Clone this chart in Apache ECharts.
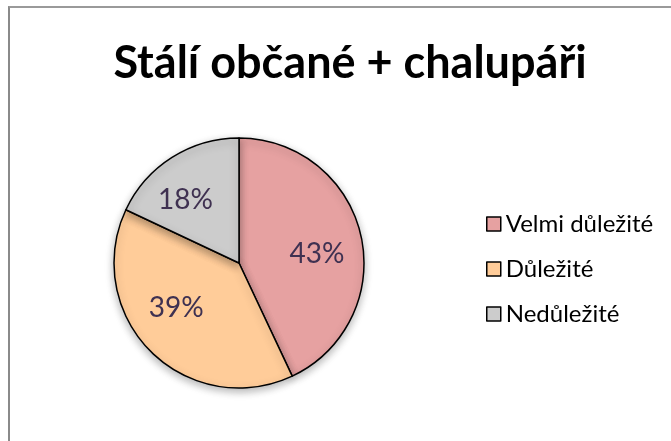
<!DOCTYPE html>
<html>
<head>
<meta charset="utf-8">
<script src="https://cdn.jsdelivr.net/npm/echarts@6/dist/echarts.min.js"></script>
<style>
  html, body { margin: 0; padding: 0; background: #fff; }
  #frame {
    position: absolute; left: 8px; top: 6px; width: 663px; height: 435px;
    border-left: 2px solid #8a8a8a; border-top: 2px solid #9a9a9a;
  }
  #chart { position: absolute; left: 0; top: 0; width: 671px; height: 441px; }
</style>
</head>
<body>
<div id="frame"></div>
<div id="chart"></div>
<script>
// data
const categories = ["Velmi důležité", "Důležité", "Nedůležité"];
const shares = [43, 39, 18];
const sliceColors = ["#E6A1A1", "#FFCC99", "#CCCCCC"];
// small label nudges so the percentages sit where Excel put them
const labelNudge = [[-3, 9], [-4, -14], [-9, 7]];

const chart = echarts.init(document.getElementById("chart"));

const pieData = categories.map((name, i) => ({
  name: name,
  value: shares[i],
  itemStyle: { color: sliceColors[i] }
}));

chart.setOption({
  animation: false,
  textStyle: { fontFamily: "Lato" },
  title: {
    text: "Stálí občané + chalupáři",
    left: 345,
    top: 36,
    textAlign: "center",
    textStyle: { fontFamily: "Lato", fontWeight: "bold", fontSize: 45, color: "#000" }
  },
  legend: {
    orient: "vertical",
    left: 481,
    top: 207,
    itemWidth: 14,
    itemHeight: 14,
    itemGap: 21,
    icon: "rect",
    selectedMode: false,
    itemStyle: { borderColor: "#000", borderWidth: 1.5 },
    textStyle: { fontFamily: "Lato", fontSize: 24, lineHeight: 24, color: "#000", padding: [0, 0, 0, 0] },
    data: categories.map((name, i) => ({ name: name, itemStyle: { color: sliceColors[i] } }))
  },
  series: [
    {
      type: "pie",
      center: [239, 263],
      radius: [0, 125],
      startAngle: 90,
      silent: true,
      label: { show: false },
      labelLine: { show: false },
      itemStyle: {
        borderColor: "#000",
        borderWidth: 1.5,
        shadowColor: "rgba(0,0,0,0.3)",
        shadowBlur: 8,
        shadowOffsetY: 3
      },
      data: pieData
    },
    {
      // label carrier only, so labels sit farther out than the mid radius
      type: "pie",
      center: [239, 263],
      radius: [35, 125],
      startAngle: 90,
      silent: true,
      legendHoverLink: false,
      itemStyle: { color: "rgba(0,0,0,0)", borderWidth: 0 },
      label: {
        show: true,
        position: "inside",
        formatter: "{c}%",
        fontFamily: "Lato",
        fontSize: 28,
        color: "#3F3151"
      },
      labelLine: { show: false },
      data: categories.map((name, i) => ({
        name: name,
        value: shares[i],
        label: { offset: labelNudge[i] }
      }))
    }
  ]
});
</script>
</body>
</html>
